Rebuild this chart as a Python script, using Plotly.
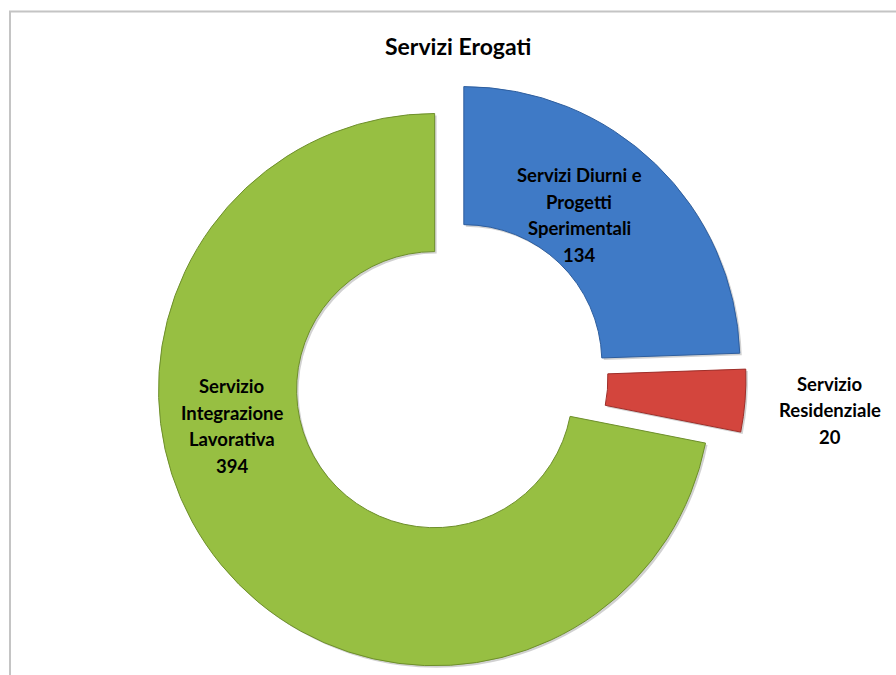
import plotly.graph_objects as go

# Service categories and counts
categories = [
    "Servizi Diurni e<br>Progetti<br>Sperimentali",
    "Servizio<br>Residenziale",
    "Servizio<br>Integrazione<br>Lavorativa",
]
values = [134, 20, 394]
colors = ["#3F7AC6", "#D3453D", "#97BF42"]
edge_colors = ["#2E5E9E", "#9E2E29", "#6E8F2C"]

W, H = 896, 675
FONT = "Lato"

# Pie box in pixels (centre and size), converted to paper fractions
cx, cy, box = 450, 377, 592


def domain(dx=0, dy=0):
    x0 = (cx + dx - box / 2) / W
    x1 = (cx + dx + box / 2) / W
    y0 = 1 - (cy + dy + box / 2) / H
    y1 = 1 - (cy + dy - box / 2) / H
    clip = lambda v: min(1.0, max(0.0, round(v, 6)))
    return dict(x=[clip(x0), clip(x1)], y=[clip(y0), clip(y1)])


fig = go.Figure()

# soft drop shadow under the ring
fig.add_trace(go.Pie(
    values=values,
    sort=False,
    direction="clockwise",
    rotation=0,
    hole=0.5,
    pull=[0.072] * len(values),
    marker=dict(colors=["rgba(0,0,0,0.18)"] * len(values), line=dict(width=0)),
    textinfo="none",
    hoverinfo="skip",
    showlegend=False,
    domain=domain(2, 2),
))

fig.add_trace(go.Pie(
    labels=[c.replace("<br>", " ") for c in categories],
    values=values,
    sort=False,
    direction="clockwise",
    rotation=0,
    hole=0.5,
    pull=[0.072] * len(values),
    marker=dict(colors=colors, line=dict(color=edge_colors, width=1)),
    textinfo="none",
    showlegend=False,
    domain=domain(),
))

# Data labels: category lines followed by the value
label_pos = [(579, 175), (830, 384), (232, 386)]
line_gap = 26.5
annotations = []
for cat, val, (lx, ly) in zip(categories, values, label_pos):
    lines = cat.split("<br>") + [str(val)]
    for i, txt in enumerate(lines):
        annotations.append(dict(
            x=lx / W, y=1 - (ly + i * line_gap) / H,
            xref="paper", yref="paper",
            text="<b>%s</b>" % txt, showarrow=False,
            xanchor="center", yanchor="middle",
            font=dict(family=FONT, size=18.5, color="#000000"),
        ))

annotations.append(dict(
    x=458 / W, y=1 - 46 / H, xref="paper", yref="paper",
    text="<b>Servizi Erogati</b>", showarrow=False,
    xanchor="center", yanchor="middle",
    font=dict(family=FONT, size=23, color="#000000"),
))

fig.update_layout(
    width=W, height=H,
    margin=dict(l=0, r=0, t=0, b=0),
    paper_bgcolor="white",
    plot_bgcolor="white",
    annotations=annotations,
    shapes=[dict(
        type="rect", xref="paper", yref="paper",
        x0=10 / W, y0=-0.05, x1=1.05, y1=1 - 11.5 / H,
        line=dict(color="#C4C4C4", width=2), layer="below",
    )],
)

fig.write_html("out.html")
